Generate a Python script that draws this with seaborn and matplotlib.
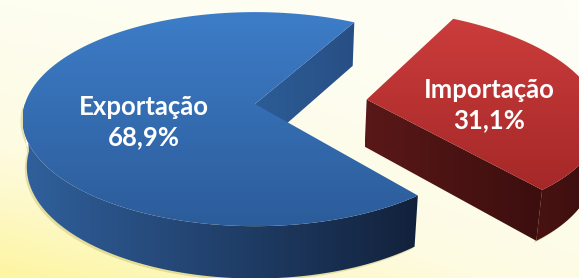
import numpy as np
import matplotlib
matplotlib.use("Agg")
import matplotlib.pyplot as plt
import seaborn as sns
from matplotlib.patches import Polygon

# dados
categorias = ["Exportação", "Importação"]
valores = [68.9, 31.1]
rotulos = ["68,9%", "31,1%"]
explode = [0.0, 0.49]

sns.set_style("white")
plt.rcParams["font.family"] = ["Lato", "DejaVu Sans"]

# geometria do "pie 3D" (perspectiva simples)
START = 61.0
ELEV = np.radians(29)
D = 6.3
H = 0.235
K = 226.0
CX, CY = 255.0, 104.0


def proj(x, y, z):
    v = y * np.sin(ELEV) + z * np.cos(ELEV)
    w = y * np.cos(ELEV) - z * np.sin(ELEV)
    s = D / (D + w)
    return x * s, v * s


_, YC = proj(0.0, 0.0, H)


def to_px(x, y, z):
    u, v = proj(np.asarray(x, float), np.asarray(y, float), np.asarray(z, float))
    return np.column_stack([CX + K * u, CY - K * (v - YC)])


def arc(ox, oy, a0, a1, z, n=120):
    t = np.radians(np.linspace(a0, a1, n))
    return to_px(ox + np.cos(t), oy + np.sin(t), np.full(n, z))


def grad_fill(ax, verts, cmap, horizontal=False, z=1):
    poly = Polygon(verts, closed=True, facecolor="none", edgecolor="none")
    ax.add_patch(poly)
    g = np.linspace(0, 1, 256)
    img = g[None, :] if horizontal else g[:, None]
    x0, x1 = verts[:, 0].min(), verts[:, 0].max()
    y0, y1 = verts[:, 1].min(), verts[:, 1].max()
    im = ax.imshow(img, cmap=cmap, extent=(x0, x1, y1, y0), aspect="auto",
                   interpolation="bicubic", zorder=z)
    im.set_clip_path(poly)
    return poly


fig = plt.figure(figsize=(5.79, 2.78), dpi=100)
ax = fig.add_axes([0, 0, 1, 1])

# fundo em degrade
W, Hh = 579, 278
xx, yy = np.meshgrid(np.linspace(0, 1, 200), np.linspace(0, 1, 100))
bg = 0.55 * (1 - xx) * yy + 0.45 * yy * yy + 0.15 * (1 - xx)
bg_cmap = sns.blend_palette(["#fefef6", "#fdfbe0", "#fdf5a0"], as_cmap=True)
ax.imshow(bg / bg.max(), cmap=bg_cmap, extent=(0, W, Hh, 0), aspect="auto", zorder=0)

cores = {
    "topo": [("#3d7dc8", "#2c5c9a"), ("#cc3c3c", "#a52828")],
    "lado": [("#30609c", "#12213b"), ("#4a1212", "#3a0d0d")],
    "corte": [("#2c5c96", "#284f85"), ("#5a1818", "#3c0e0e")],
}

total = sum(valores)
a = START
for i, val in enumerate(valores):
    span = val / total * 360
    a0, a1 = a, a + span
    a = a1
    mid = np.radians((a0 + a1) / 2)
    ox, oy = explode[i] * np.cos(mid), explode[i] * np.sin(mid)
    zb = 2 + i * 10

    # face de corte visivel (normal voltada ao observador)
    for ang, sgn in ((a0, -1), (a1, 1)):
        nrm = np.radians(ang + sgn * 90)
        if np.sin(nrm) < 0:
            t = np.radians(ang)
            xs = [ox, ox + np.cos(t), ox + np.cos(t), ox]
            ys = [oy, oy + np.sin(t), oy + np.sin(t), oy]
            zs = [H, H, 0, 0]
            c0, c1 = cores["corte"][i]
            grad_fill(ax, to_px(xs, ys, zs),
                      sns.blend_palette([c0, c1], as_cmap=True), horizontal=True, z=zb)

    # lateral externa (parte frontal)
    lo = a0 % 360
    hi = lo + span
    segs = []
    for base in (180, 540):
        s0, s1 = max(lo, base), min(hi, base + 180)
        if s1 > s0:
            segs.append((s0, s1))
    for s0, s1 in segs:
        top = arc(ox, oy, s0, s1, H)
        bot = arc(ox, oy, s1, s0, 0)
        verts = np.vstack([top, bot])
        # sombra
        sh = Polygon(verts + [-2.0, 2.0], closed=True, facecolor="#b8ad50",
                     edgecolor="none", alpha=0.35, zorder=zb - 1)
        ax.add_patch(sh)
        c0, c1 = cores["lado"][i]
        grad_fill(ax, verts, sns.blend_palette([c0, c1], as_cmap=True),
                  horizontal=True, z=zb + 1)

    # topo
    topo = np.vstack([to_px([ox], [oy], [H]), arc(ox, oy, a0, a1, H)])
    c0, c1 = cores["topo"][i]
    grad_fill(ax, topo, sns.blend_palette([c0, c1], as_cmap=True), z=zb + 2)

# rotulos
pos = [(144, 122), (489, 105)]
for (x, y), cat, rot in zip(pos, categorias, rotulos):
    ax.text(x, y, f"{cat}\n{rot}", ha="center", va="center", color="white",
            fontsize=18.5, fontweight="bold", linespacing=1.3, zorder=50)

ax.set_xlim(0, W)
ax.set_ylim(Hh, 0)
ax.axis("off")
fig.savefig("out.png", dpi=100)
